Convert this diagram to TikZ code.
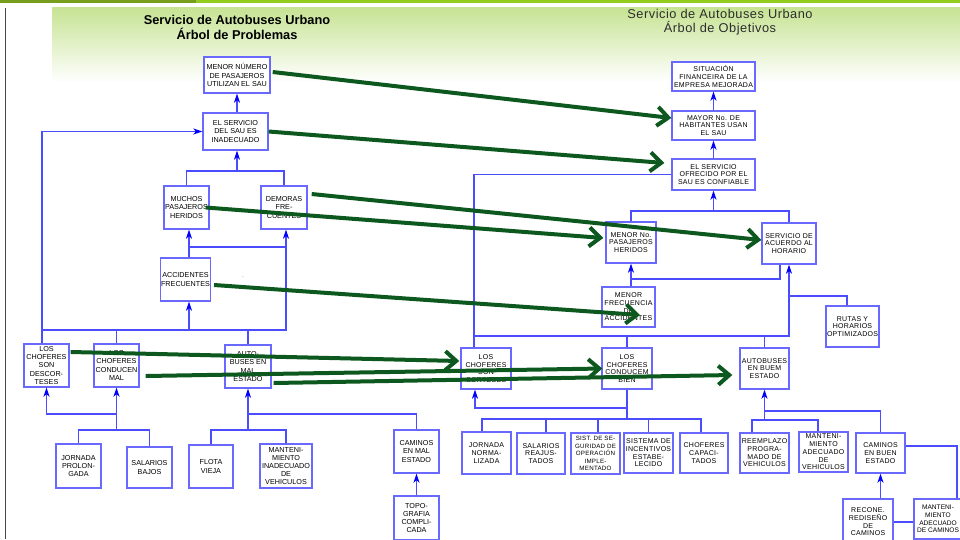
\documentclass[tikz,border=0pt]{standalone}
\usepackage{fontspec}
\setmainfont{Liberation Sans}
\newfontfamily\spacedsans[LetterSpace=4]{Liberation Sans}
\usetikzlibrary{arrows.meta,calc}

\definecolor{barleft}{RGB}{118,158,28}
\definecolor{barright}{RGB}{145,204,30}
\definecolor{panelgreen}{RGB}{198,227,146}
\definecolor{boxblue}{RGB}{105,105,255}
\definecolor{linkblue}{RGB}{75,75,255}
\definecolor{tipblue}{RGB}{0,0,255}
\definecolor{goalgreen}{RGB}{12,88,30}
\definecolor{titlegray}{RGB}{45,45,45}
\definecolor{rulegray}{RGB}{70,70,70}

\begin{document}
\begin{tikzpicture}[x=1pt,y=-1pt,
  lbox/.style={draw=boxblue, line width=1.4pt, fill=white, align=center,
    inner sep=0.5pt, font=\fontsize{7.2}{8.2}\selectfont},
  rbox/.style={lbox, font=\spacedsans\fontsize{7}{7.7}\selectfont},
  sz/.style 2 args={minimum width=#1pt, minimum height=#2pt},
  link/.style={draw=linkblue, line width=1.1pt},
  arr/.style={link, -{Stealth[length=9pt,width=6pt,inset=2.5pt,color=tipblue]}},
  goal/.style={draw=goalgreen, line width=4pt, -{Straight Barb[length=11pt,width=19pt]}},
  ltitle/.style={align=center, font=\bfseries\fontsize{12.8}{14.5}\selectfont},
  rtitle/.style={align=center, text=titlegray, font=\spacedsans\fontsize{12.8}{14}\selectfont}
]
\useasboundingbox (0,0) rectangle (960,539);
\clip (0,0) rectangle (960,539);

% page decoration
\fill[white] (0,0) rectangle (960,539);
\fill[barleft] (0,0) rectangle (196,2.7);
\fill[barright] (196,0) rectangle (960,2.7);
\shade[top color=panelgreen, bottom color=white] (52,7) rectangle (960,82);
\draw[rulegray, line width=1pt] (5.5,8) -- (5.5,539);

% titles
\node[ltitle] (tl) at (237,27.5) {Servicio de Autobuses Urbano\\Árbol de Problemas};
\node[rtitle] (tr) at (720,22) {Servicio de Autobuses Urbano\\Árbol de Objetivos};

% ---------- problem tree ----------
\node[lbox, sz={66}{36}] (p1) at (237,75) {MENOR NÚMERO\\DE PASAJEROS\\UTILIZAN EL SAU};
\node[lbox, sz={65}{37}] (p2) at (235.5,131.5) {EL SERVICIO\\DEL SAU ES\\INADECUADO};
\node[lbox, sz={45}{43}] (p3) at (186.5,207.5) {MUCHOS\\PASAJEROS\\HERIDOS};
\node[lbox, sz={46}{43}] (p4) at (284,207.5) {DEMORAS\\FRE-\\CUENTES};
\node[lbox, sz={49}{43}] (p5) at (185.5,279.5) {ACCIDENTES\\FRECUENTES};
\node[font=\fontsize{5}{5}\selectfont, inner sep=0] (dot) at (243,277) {.};
\node[lbox, sz={45}{43}] (p6) at (46.5,365.5) {LOS\\CHOFERES\\SON\\DESCOR-\\TESES};
\node[lbox, sz={45}{43}] (p7) at (116.5,365.5) {LOS\\CHOFERES\\CONDUCEN\\MAL};
\node[lbox, sz={46}{43}] (p8) at (248,366.5) {AUTO-\\BUSES EN\\MAL\\ESTADO};
\node[lbox, sz={45}{44}] (p9) at (78.5,466) {JORNADA\\PROLON-\\GADA};
\node[lbox, sz={45}{41}] (p10) at (149.5,467.5) {SALARIOS\\BAJOS};
\node[lbox, sz={44}{43}] (p11) at (211,466.5) {FLOTA\\VIEJA};
\node[lbox, sz={52}{44}] (p12) at (286,466) {MANTENI-\\MIENTO\\INADECUADO\\DE\\VEHICULOS};
\node[lbox, sz={45}{43}] (p13) at (416.5,451.5) {CAMINOS\\EN MAL\\ESTADO};
\node[lbox, sz={45}{44}] (p14) at (416.5,518) {TOPO-\\GRAFIA\\COMPLI-\\CADA};

% junctions of the problem tree
\coordinate (a1) at (237,171);
\coordinate (a2) at (42,330);
\coordinate (a3) at (286,330);
\coordinate (a4) at (189,247);
\coordinate (a5) at (116.5,414);
\coordinate (a6) at (116.5,430);
\coordinate (a7) at (248,430);
\coordinate (a8) at (248,414);

\draw[arr] (p2.north -| p1.south) -- (p1.south);
\draw[link] (p3.north) |- (a1) -| (p4.north);
\draw[arr] (a1) -- (a1 |- p2.south);
\draw[arr] ([xshift=-4.5pt]p6.north) |- (p2.west);
\draw[arr] (a2) -- (a3) -- (a3 |- p4.south);
\draw[link] (p7.north) -- (p7.north |- a2);
\draw[link] (p8.north) -- (p8.north |- a2);
\draw[arr] (a4 |- a2) -- (a4 |- p5.south);
\draw[arr] (a4 |- p5.north) -- (a4 |- p3.south);
\draw[link] (a4) -- (a4 -| a3);
\draw[arr] (a5) -| (p6.south);
\draw[arr] (a6) -- (p7.south);
\draw[link] (p9.north) |- (a6) -| (p10.north);
\draw[arr] (a7) -- (p8.south);
\draw[link] (p11.north) |- (a7) -| (p12.north);
\draw[link] (a8) -| (p13.north);
\draw[arr] (p14.north) -- (p13.south);

% ---------- objective tree ----------
\node[rbox, sz={83}{29}] (o1) at (713.5,76.5) {SITUACIÓN\\FINANCEIRA DE LA\\EMPRESA MEJORADA};
\node[rbox, sz={83}{29}] (o2) at (713.5,125.5) {MAYOR No. DE\\HABITANTES USAN\\EL SAU};
\node[rbox, sz={83}{31}] (o3) at (713.5,174.5) {EL SERVICIO\\OFRECIDO POR EL\\SAU ES CONFIABLE};
\node[rbox, sz={50}{41}] (o4) at (631,242.5) {MENOR No.\\PASAJEROS\\HERIDOS};
\node[rbox, sz={54}{41}] (o5) at (789,243.5) {SERVICIO DE\\ACUERDO AL\\HORARIO};
\node[rbox, sz={53}{40}] (o6) at (628.5,307) {MENOR\\FRECUENCIA\\DE\\ACCIDENTES};
\node[rbox, sz={53}{41}] (o7) at (852.5,326.5) {RUTAS Y\\HORARIOS\\OPTIMIZADOS};
\node[rbox, sz={50}{41}] (o8) at (486,368.5) {LOS\\CHOFERES\\SON\\CORTESES};
\node[rbox, sz={50}{41}] (o9) at (627,368.5) {LOS\\CHOFERES\\CONDUCEM\\BIEN};
\node[rbox, sz={49}{41}] (o10) at (764.5,368.5) {AUTOBUSES\\EN BUEM\\ESTADO};
\node[rbox, sz={49}{42}] (o11) at (486.5,453) {JORNADA\\NORMA-\\LIZADA};
\node[rbox, sz={48}{41}] (o12) at (541,453.5) {SALARIOS\\REAJUS-\\TADOS};
\node[rbox, sz={49}{41}, font=\spacedsans\fontsize{6.2}{7.5}\selectfont] (o13) at (595.5,453.5) {SIST. DE SE-\\GURIDAD DE\\OPERACIÓN\\IMPLE-\\MENTADO};
\node[rbox, sz={49}{40}] (o14) at (648.5,453) {SISTEMA DE\\INCENTIVOS\\ESTABE-\\LECIDO};
\node[rbox, sz={48}{40}] (o15) at (704,453) {CHOFERES\\CAPACI-\\TADOS};
\node[rbox, sz={49}{40}] (o16) at (764.5,453) {REEMPLAZO\\PROGRA-\\MADO DE\\VEHICULOS};
\node[rbox, sz={49}{40}] (o17) at (823.5,452) {MANTENI-\\MIENTO\\ADECUADO\\DE\\VEHICULOS};
\node[rbox, sz={49}{40}] (o18) at (880.5,453) {CAMINOS\\EN BUEN\\ESTADO};
\node[rbox, sz={50}{46}] (o19) at (868,522) {RECONE.\\REDISEÑO\\DE\\CAMINOS};
\node[rbox, sz={48}{40}, font=\fontsize{6.6}{7.6}\selectfont] (o20) at (938,519) {MANTENI-\\MIENTO\\ADECUADO\\DE CAMINOS};

% junctions of the objective tree
\coordinate (b1) at (474,336);
\coordinate (b2) at (789,336);
\coordinate (b3) at (789,296);
\coordinate (b4) at (847,296);
\coordinate (b5) at (713.5,211);
\coordinate (b6) at (631,279);
\coordinate (b7) at (780,279);
\coordinate (b8) at (626,408);
\coordinate (b9) at (475,408);
\coordinate (b10) at (627,419);
\coordinate (b11) at (764.5,420);
\coordinate (b12) at (764.5,411);

\draw[arr] (o2.north) -- (o1.south);
\draw[arr] (o3.north) -- (o2.south);
\draw[link] (o3.west) -| (b1 |- o8.north);
\draw[arr] (b1) -- (b2) -- (o5.south);
\draw[link] (o9.north) -- (o9.north |- b1);
\draw[link] (o10.north) -- (o10.north |- b1);
\draw[link] (b3) -- (b4) -- (b4 |- o7.north);
\draw[arr] (b5) -- (o3.south);
\draw[link] (o4.north) |- (b5) -| (o5.north);
\draw[arr] (o6.north -| o4.south) -- (o4.south);
\draw[link] (b6) -- (b7) -- (b7 |- o5.south);
\draw[arr] (b8) -- (b9) -- (b9 |- o8.south);
\draw[link] (o9.south) -- (b10);
\draw[link] ([xshift=-4.5pt]o11.north) |- (b10) -| ([xshift=-3pt]o15.north);
\draw[link] ([xshift=5pt]o12.north) -- ([xshift=5pt]o12.north |- b10);
\draw[link] ([xshift=2.5pt]o13.north) -- ([xshift=2.5pt]o13.north |- b10);
\draw[link] (o14.north) -- (o14.north |- b10);
\draw[arr] (b11) -- (o10.south);
\draw[link] ([xshift=-12.5pt]o16.north) |- (b11) -| ([xshift=-5.5pt]o17.north);
\draw[link] (b12) -| (o18.north);
\draw[link] ([yshift=7pt]o18.east) -| ([xshift=19pt]o20.north);
\draw[arr] (o18.south |- o19.north) -- (o18.south);
\draw[link] (o19.east) -- (o19.east -| o20.west);

% ---------- problem -> objective correspondences ----------
\draw[goal] ([xshift=2pt,yshift=3pt]p1.east) -- ([yshift=7.5pt]o2.west);
\draw[goal] (p2.east) -- ([xshift=-7pt,yshift=11.5pt]o3.west);
\draw[goal] ([xshift=4pt,yshift=13.5pt]p4.east) -- ([yshift=3.5pt]o5.west);
\draw[goal] ([xshift=-4pt]p3.east) -- ([xshift=-2pt,yshift=4.5pt]o4.west);
\draw[goal] ([xshift=3pt,yshift=-5.5pt]p5.east) -- ([xshift=11.5pt,yshift=-8pt]o6.center);
\draw[goal] ([xshift=1pt,yshift=13.5pt]p6.east) -- ([xshift=-1pt,yshift=7.5pt]o8.west);
\draw[goal] ([xshift=6pt,yshift=-10.5pt]p7.east) -- ([xshift=1pt]o9.west);
\draw[goal] ([xshift=2pt,yshift=-16.5pt]p8.east) -- ([xshift=-7pt,yshift=-6.5pt]o10.west);
\end{tikzpicture}
\end{document}
